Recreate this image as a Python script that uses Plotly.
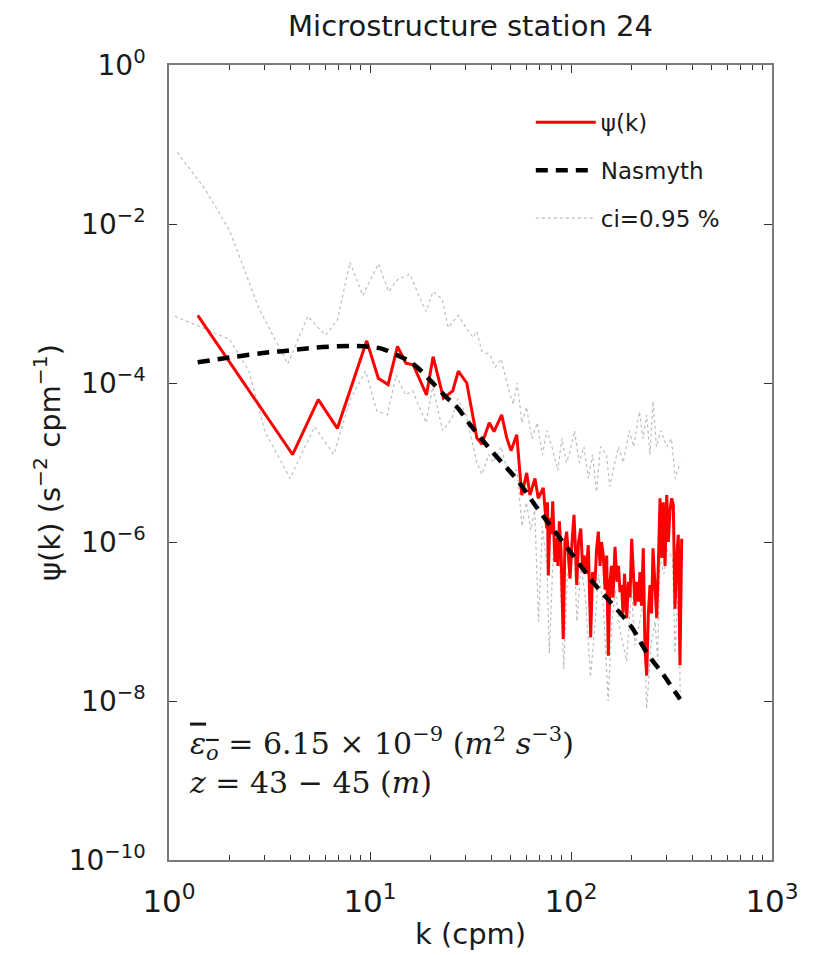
import plotly.graph_objects as go

# ---- data ----
k_psi = [1.39, 4.12, 5.53, 6.88, 9.63, 11.0, 12.3, 13.7, 15.1, 16.4, 19.1, 20.6, 23.2, 25.8, 27.5,
         30.3, 34.0, 36.0, 39.2, 41.4, 45.2, 47.9, 50.3, 53.7, 56.9, 60.2, 62.5, 66.2, 68.7, 72.8,
         75.7, 76.4, 77.1, 78.6, 80.0, 81.1, 83.2, 84.7, 86.1, 87.5, 89.2, 91.5, 93.3, 95.2, 97.2,
         98.9, 101.2, 103.5, 105.3, 106.8, 109.0, 111.8, 114.1, 116.1, 118.8, 121.9, 125.3, 127.9,
         131.7, 134.0, 136.8, 139.5, 141.8, 144.8, 147.7, 150.5, 153.3, 156.3, 159.0, 161.8, 165.6,
         169.4, 172.3, 175.3, 178.7, 181.4, 184.6, 189.3, 193.2, 196.6, 200.4, 204.2, 208.2, 211.8,
         216.2, 220.4, 224.2, 228.9, 233.4, 238.1, 242.5, 247.2, 251.5, 255.9, 261.8, 266.9, 271.9,
         277.3, 282.7, 287.9, 293.6, 299.4, 304.9, 310.9, 316.9, 322.8, 329.1, 335.6, 341.8, 348.5,
         355.4]
psi = [7.08e-4, 1.26e-5, 6.17e-5, 2.69e-5, 3.39e-4, 1.15e-4, 9.55e-5, 2.88e-4, 1.78e-4, 1.70e-4,
       7.08e-5, 2.14e-4, 6.46e-5, 7.94e-5, 1.41e-4, 1.00e-4, 2.04e-5, 1.70e-5, 3.16e-5, 2.45e-5,
       3.98e-5, 2.04e-5, 1.41e-5, 2.24e-5, 3.89e-6, 7.41e-6, 3.89e-6, 6.31e-6, 3.55e-6, 4.79e-6,
       1.48e-6, 3.16e-6, 3.80e-7, 2.00e-6, 1.26e-6, 3.24e-6, 5.62e-7, 1.12e-6, 5.01e-7, 1.82e-6,
       7.94e-7, 6.03e-8, 1.00e-6, 1.35e-6, 6.31e-7, 3.47e-7, 1.00e-6, 2.19e-6, 7.94e-7, 2.88e-7,
       1.00e-6, 1.48e-6, 5.01e-7, 6.76e-7, 3.98e-7, 9.12e-7, 6.31e-8, 4.17e-7, 3.16e-7, 7.94e-7,
       1.35e-6, 5.01e-7, 1.00e-6, 6.76e-7, 2.51e-7, 6.76e-7, 3.72e-8, 3.16e-7, 5.01e-7, 2.00e-7,
       8.71e-7, 3.16e-7, 5.01e-7, 2.34e-7, 2.88e-7, 1.26e-7, 3.98e-7, 1.10e-7, 3.16e-7, 2.00e-7,
       1.10e-6, 3.98e-7, 1.58e-7, 3.16e-7, 1.78e-7, 4.17e-7, 1.58e-7, 8.32e-7, 4.57e-8, 2.09e-8,
       1.26e-7, 2.88e-7, 1.26e-7, 8.32e-7, 3.16e-7, 1.10e-7, 5.01e-7, 3.55e-6, 6.31e-7, 3.16e-6,
       5.01e-7, 3.89e-6, 1.00e-6, 2.51e-6, 3.55e-6, 2.95e-6, 1.45e-7, 6.31e-7, 1.23e-6, 2.82e-8,
       1.10e-6]

k_nasmyth = [1.39, 2, 3, 4, 5, 6.5, 8.3, 10, 11.5, 13.6, 15.5, 17.5, 20, 24, 27, 31.4, 38, 44.5,
             54, 70, 99, 130, 163, 200, 238, 290, 349]
nasmyth = [1.82e-4, 2.09e-4, 2.40e-4, 2.57e-4, 2.75e-4, 2.88e-4, 2.92e-4, 2.85e-4, 2.69e-4,
           2.24e-4, 1.91e-4, 1.51e-4, 1.07e-4, 6.61e-5, 5.01e-5, 3.02e-5, 1.66e-5, 1.05e-5,
           6.03e-6, 2.40e-6, 7.59e-7, 3.02e-7, 1.58e-7, 8.51e-8, 4.07e-8, 2.09e-8, 1.05e-8]

k_ci_upper = [1.1, 1.5, 2.0, 2.8, 3.9, 4.9, 6.0, 6.9, 7.95, 9.2, 11, 12.4, 13.7, 15.8, 17.5, 19,
              20.6, 22.8, 24.5, 27.5, 30, 32.6, 34, 36, 39.4, 42, 45, 48, 51.5, 54, 57, 60, 64,
              68, 72, 76, 81.5, 86, 90, 95, 99, 104, 110, 116, 122, 128, 134, 140, 150, 156,
              163, 172, 182, 195, 205, 219, 228, 238, 247, 256, 266, 280, 300, 316, 330, 349]
ci_upper = [7.94e-2, 2.82e-2, 8.32e-3, 8.71e-4, 1.74e-4, 6.92e-4, 3.98e-4, 6.31e-4, 3.31e-3,
            1.26e-3, 3.16e-3, 1.41e-3, 2.00e-3, 2.34e-3, 1.26e-3, 7.94e-4, 1.41e-3, 1.15e-3,
            5.01e-4, 7.08e-4, 5.01e-4, 3.72e-4, 4.47e-4, 2.51e-4, 2.29e-4, 1.58e-4, 2.00e-4,
            1.00e-4, 5.37e-5, 1.00e-4, 3.16e-5, 5.01e-5, 2.00e-5, 3.16e-5, 1.26e-5, 2.51e-5,
            1.38e-5, 7.94e-6, 2.00e-5, 1.00e-5, 1.38e-5, 2.51e-5, 1.00e-5, 1.58e-5, 6.31e-6,
            1.26e-5, 4.27e-6, 1.58e-5, 1.26e-5, 5.01e-6, 8.32e-6, 1.58e-5, 1.00e-5, 2.51e-5,
            1.58e-5, 4.37e-5, 2.00e-5, 3.98e-5, 1.26e-5, 5.89e-5, 1.58e-5, 2.51e-5, 1.58e-5,
            2.00e-5, 6.31e-6, 1.00e-5]

k_ci_lower = [1.07, 2.0, 2.5, 3.0, 4.0, 5.3, 6.6, 8, 9.5, 10.8, 12.2, 13.5, 15, 16.3, 19, 20.5,
              23, 25.5, 27.3, 30, 34, 36, 39, 41, 45, 48, 54, 57, 60, 63, 66, 69, 72, 76, 78,
              82, 88, 92, 96, 104, 107, 112, 118, 125, 132, 137, 145, 153, 160, 166, 175, 189,
              200, 208, 220, 229, 238, 250, 262, 270, 277, 290, 300, 320, 329, 342, 350]
ci_lower = [6.92e-4, 3.55e-4, 1.41e-4, 2.45e-5, 6.31e-6, 2.82e-5, 1.26e-5, 6.31e-5, 1.41e-4,
            4.47e-5, 3.98e-5, 1.26e-4, 7.08e-5, 7.94e-5, 3.16e-5, 8.91e-5, 2.51e-5, 3.55e-5,
            6.31e-5, 3.98e-5, 1.00e-5, 7.08e-6, 1.26e-5, 1.00e-5, 1.58e-5, 7.94e-6, 7.94e-6,
            1.58e-6, 3.16e-6, 1.41e-6, 2.51e-6, 1.00e-7, 1.58e-6, 5.01e-7, 3.98e-8, 1.00e-6,
            5.01e-7, 2.51e-8, 3.98e-7, 6.31e-7, 1.00e-7, 5.01e-7, 2.00e-7, 2.00e-8, 1.00e-7,
            3.98e-7, 1.58e-7, 1.00e-8, 1.00e-7, 2.51e-7, 7.94e-8, 3.16e-8, 2.51e-7, 5.01e-8,
            1.00e-7, 2.00e-7, 7.94e-9, 5.01e-8, 1.00e-7, 3.16e-8, 6.31e-7, 3.98e-7, 7.94e-7,
            6.31e-7, 3.98e-8, 2.51e-7, 1.00e-8]

x_tickvals = [1, 10, 100, 1000]
x_ticktext = ["10<sup>0</sup>", "10<sup>1</sup>", "10<sup>2</sup>", "10<sup>3</sup>"]
y_tickvals = [1, 1e-2, 1e-4, 1e-6, 1e-8, 1e-10]
y_ticktext = ["10<sup>0</sup>", "10<sup>−2</sup>", "10<sup>−4</sup>", "10<sup>−6</sup>",
              "10<sup>−8</sup>", "10<sup>−10</sup>"]

FONT = "DejaVu Sans"
TXT = "#1a1a1a"
AXC = "#7a7a7a"
W, H = 817, 947  # page body adds an 8px margin

fig = go.Figure()
fig.add_trace(go.Scatter(x=k_ci_upper, y=ci_upper, mode="lines", name="ci=0.95 %",
                         legendgroup="c", legendrank=3,
                         line=dict(color="#bdbdbd", width=1.2, dash="dot")))
fig.add_trace(go.Scatter(x=k_ci_lower, y=ci_lower, mode="lines", name="ci=0.95 %",
                         legendgroup="c", showlegend=False,
                         line=dict(color="#bdbdbd", width=1.2, dash="dot")))
fig.add_trace(go.Scatter(x=k_psi, y=psi, mode="lines", name="ψ(k)", legendgroup="a",
                         legendrank=1, line=dict(color="#ff0000", width=3)))
fig.add_trace(go.Scatter(x=k_nasmyth, y=nasmyth, mode="lines", name="Nasmyth",
                         legendgroup="b", legendrank=2, line_shape="spline",
                         line=dict(color="black", width=4.5, dash="12px,8px")))

fig.update_layout(
    width=W, height=H,
    margin=dict(l=161, r=53, t=57, b=95, autoexpand=False),
    paper_bgcolor="white", plot_bgcolor="white",
    font=dict(family=FONT, color=TXT),
    title=dict(text="Microstructure station 24", x=0.5, xref="paper", y=1 - 18 / H,
               yref="container", yanchor="middle", xanchor="center",
               font=dict(size=29, family=FONT, color=TXT)),
    showlegend=True,
    legend=dict(x=0.6, y=0.955, xanchor="left", yanchor="top", bgcolor="rgba(0,0,0,0)",
                font=dict(size=23, family=FONT, color=TXT),
                traceorder="grouped", tracegroupgap=15, itemwidth=60),
    annotations=[
        dict(text='<span style="text-decoration: overline"><i>ε</i></span>'
                  '<sub><span style="text-decoration: overline"><i>o</i></span></sub>'
                  ' = 6.15 × 10<sup>−9</sup> (<i>m</i><sup>2</sup> <i>s</i><sup>−3</sup>)'
                  '<br><i>z</i> = 43 − 45 (<i>m</i>)',
             x=0.03, y=0.125, xref="paper", yref="paper", xanchor="left", yanchor="middle",
             align="left", showarrow=False,
             font=dict(family="DejaVu Serif", size=30, color=TXT)),
    ],
)
fig.update_xaxes(type="log", range=[0, 3], tickvals=x_tickvals, ticktext=x_ticktext,
                 automargin=False,
                 showgrid=False, zeroline=False, showline=True, linecolor=AXC, linewidth=1.5,
                 mirror="ticks", ticks="inside", ticklen=8, tickcolor="#333", tickwidth=1,
                 minor=dict(dtick="D1", ticks="inside", ticklen=5, tickcolor="#333",
                            showgrid=False),
                 tickfont=dict(size=31, family=FONT, color=TXT), ticklabelstandoff=13,
                 title=dict(text="k (cpm)", font=dict(size=29, family=FONT, color=TXT),
                            standoff=6))
fig.update_yaxes(type="log", range=[-10, 0], tickvals=y_tickvals, ticktext=y_ticktext,
                 automargin=False,
                 showgrid=False, zeroline=False, showline=True, linecolor=AXC, linewidth=1.5,
                 mirror="ticks", ticks="inside", ticklen=8, tickcolor="#333", tickwidth=1,
                 tickfont=dict(size=28, family=FONT, color=TXT), ticklabelstandoff=16,
                 title=dict(text="ψ(k) (s<sup>−2</sup> cpm<sup>−1</sup>)",
                            font=dict(size=29, family=FONT, color=TXT), standoff=0))

fig.write_html("out.html")
